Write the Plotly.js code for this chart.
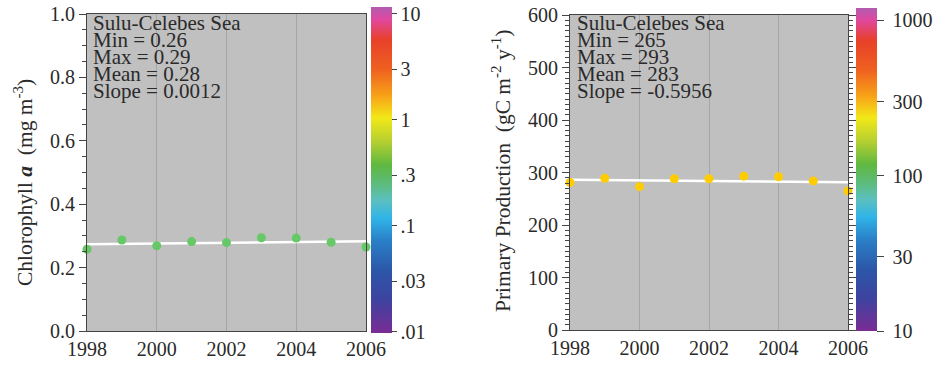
<!DOCTYPE html>
<html><head><meta charset="utf-8">
<script src="https://cdn.plot.ly/plotly-3.0.1.min.js"></script>
<style>body{margin:0;background:#fff}</style>
</head><body><div id="chart" style="width:933px;height:370px"></div>
<script>
const years = [1998,1999,2000,2001,2002,2003,2004,2005,2006];
const chl = [0.258,0.287,0.269,0.282,0.279,0.294,0.293,0.280,0.265];
const pp = [281,289,273,288,288,293,292,284,265];
const trendYears = [1998,2006];
const chlTrend = [0.274,0.283];
const ppTrend = [286.0,281.2];
const chlStats = ["Sulu-Celebes Sea","Min = 0.26","Max = 0.29","Mean = 0.28","Slope = 0.0012"];
const ppStats = ["Sulu-Celebes Sea","Min = 265","Max = 293","Mean = 283","Slope = -0.5956"];
const chlCbVals = [0.01,0.03,0.1,0.3,1,3,10];
const chlCbText = [".01",".03",".1",".3","1","3","10"];
const ppCbVals = [10,30,100,300,1000];
const ppCbText = ["10","30","100","300","1000"];

const W = 933, H = 370;
const px = x => x / W;
const py = y => 1 - y / H;
const FONT = "Liberation Serif, Times New Roman, serif";
const TXT = "#2a2a2a";
const AX = "#444";
const CS = [
  [0.0,"#7a2c94"],[0.1,"#3e43a0"],[0.19,"#2c56a8"],[0.284,"#2a80c8"],
  [0.352,"#30b4e8"],[0.407,"#5cc0c0"],[0.454,"#5cbc80"],[0.515,"#5fb840"],
  [0.59,"#b8d030"],[0.66,"#f2e818"],[0.73,"#f8a018"],[0.81,"#ee6020"],
  [0.90,"#e8402a"],[0.963,"#e048a0"],[1.0,"#b05cb0"]
];

function cbar(x, yTop, len, vals, text, tlen, prefix) {
  return {
    x: px(x), xanchor: "left", xpad: 0, xref: "paper",
    y: py(yTop), yanchor: "top", ypad: 0, yref: "paper",
    len: len, lenmode: "pixels", thickness: 21, thicknessmode: "pixels",
    outlinewidth: 0, borderwidth: 0, ticklabeloverflow: "allow",
    tickmode: "array", tickvals: vals.map(v => Math.log10(v)), ticktext: text.map(t => prefix + t),
    ticks: "outside", ticklen: tlen, tickcolor: AX,
    tickfont: {family: FONT, size: 20, color: TXT}
  };
}

const data = [
  {type:"scatter", x: years, y: chl, xaxis:"x", yaxis:"y", mode:"markers",
   marker:{opacity:0, size:1, color: chl.map(v => Math.log10(v)), cmin:-2.01, cmax:1.066,
     colorscale: CS, showscale:true, colorbar: cbar(371, 7, 326, chlCbVals, chlCbText, 5, "")},
   hoverinfo:"skip", showlegend:false},
  {type:"scatter", x: trendYears, y: chlTrend, xaxis:"x", yaxis:"y", mode:"lines",
   line:{color:"#ffffff", width:2.5}, hoverinfo:"skip", showlegend:false},
  {type:"scatter", x: years, y: chl, xaxis:"x", yaxis:"y", mode:"markers",
   marker:{color:"#66c866", size:9}, cliponaxis:false, showlegend:false},

  {type:"scatter", x: years, y: pp, xaxis:"x2", yaxis:"y2", mode:"markers",
   marker:{opacity:0, size:1, color: pp.map(v => Math.log10(v)), cmin:1, cmax:3.08,
     colorscale: CS, showscale:true, colorbar: cbar(856, 8, 323, ppCbVals, ppCbText, 7, "\u00a0")},
   hoverinfo:"skip", showlegend:false},
  {type:"scatter", x: trendYears, y: ppTrend, xaxis:"x2", yaxis:"y2", mode:"lines",
   line:{color:"#ffffff", width:2.5}, hoverinfo:"skip", showlegend:false},
  {type:"scatter", x: years, y: pp, xaxis:"x2", yaxis:"y2", mode:"markers",
   marker:{color:"#ffcc00", size:9}, cliponaxis:false, showlegend:false}
];

const xLab = {
  range:[1998,2006], tick0:1998, dtick:2, showgrid:true, gridcolor:"#a6a6a6", gridwidth:1,
  showline:true, linecolor:AX, linewidth:1, mirror:true, ticks:"",
  tickfont:{family:FONT, size:20, color:TXT}, zeroline:false, fixedrange:true
};
const xTick = {
  range:[1998,2006], tick0:1998, dtick:2, showgrid:false, showline:false, mirror:"ticks",
  ticks:"outside", ticklen:6, tickcolor:AX, showticklabels:false, zeroline:false, fixedrange:true,
  side:"bottom"
};
const yCommon = {
  showgrid:false, showline:true, linecolor:AX, linewidth:1, ticks:"outside", ticklen:7,
  tickcolor:AX, tickfont:{family:FONT, size:20, color:TXT}, zeroline:false, fixedrange:true
};

const annotations = [];
chlStats.forEach((t, i) => annotations.push({
  xref:"paper", yref:"paper", x: px(91), xanchor:"left", y: py(30 + i*16.9 - 7), yanchor:"middle",
  text:t, showarrow:false, font:{family:FONT, size:21, color:TXT}
}));
ppStats.forEach((t, i) => annotations.push({
  xref:"paper", yref:"paper", x: px(575), xanchor:"left", y: py(30 + i*16.9 - 7), yanchor:"middle",
  text:t, showarrow:false, font:{family:FONT, size:21, color:TXT}
}));
annotations.push({xref:"paper", yref:"paper", x: px(23), y: py(183), xanchor:"center", yanchor:"middle",
  textangle:-90, showarrow:false, font:{family:FONT, size:21.5, color:TXT},
  text:"Chlorophyll <b><i>a</i></b>  (mg m<sup>-3</sup>)"});
annotations.push({xref:"paper", yref:"paper", x: px(502), y: py(171), xanchor:"center", yanchor:"middle",
  textangle:-90, showarrow:false, font:{family:FONT, size:21.5, color:TXT},
  text:"Primary Production  (gC m<sup>-2</sup> y<sup>-1</sup>)"});

const layout = {
  width:W, height:H, margin:{l:0, r:0, t:0, b:0},
  paper_bgcolor:"#ffffff", plot_bgcolor:"#c0c0c0", showlegend:false,
  xaxis: Object.assign({}, xLab, {domain:[px(87), px(366)], anchor:"y"}),
  xaxis3: Object.assign({}, xTick, {overlaying:"x", anchor:"y"}),
  yaxis: Object.assign({}, yCommon, {domain:[py(331), py(14)], anchor:"x", range:[0,1],
    dtick:0.2, tick0:0, tickformat:".1f", mirror:true,
    minor:{dtick:0.05, ticks:"outside", ticklen:4, tickcolor:AX}}),
  yaxis3: {overlaying:"y", side:"right", anchor:"x", range:[0,1], dtick:0.05, tick0:0,
    ticks:"inside", ticklen:4, tickcolor:"#666", showticklabels:false, showgrid:false,
    showline:false, zeroline:false, fixedrange:true},
  xaxis2: Object.assign({}, xLab, {domain:[px(570), px(848)], anchor:"y2"}),
  xaxis4: Object.assign({}, xTick, {overlaying:"x2", anchor:"y2"}),
  yaxis2: Object.assign({}, yCommon, {domain:[py(330), py(15)], anchor:"x2", range:[0,600],
    dtick:100, tick0:0, mirror:"ticks",
    minor:{dtick:10, ticks:"outside", ticklen:4, tickcolor:AX}}),
  annotations: annotations
};

Plotly.newPlot("chart", data, layout, {displayModeBar:false, staticPlot:true});
</script>
</body></html>
